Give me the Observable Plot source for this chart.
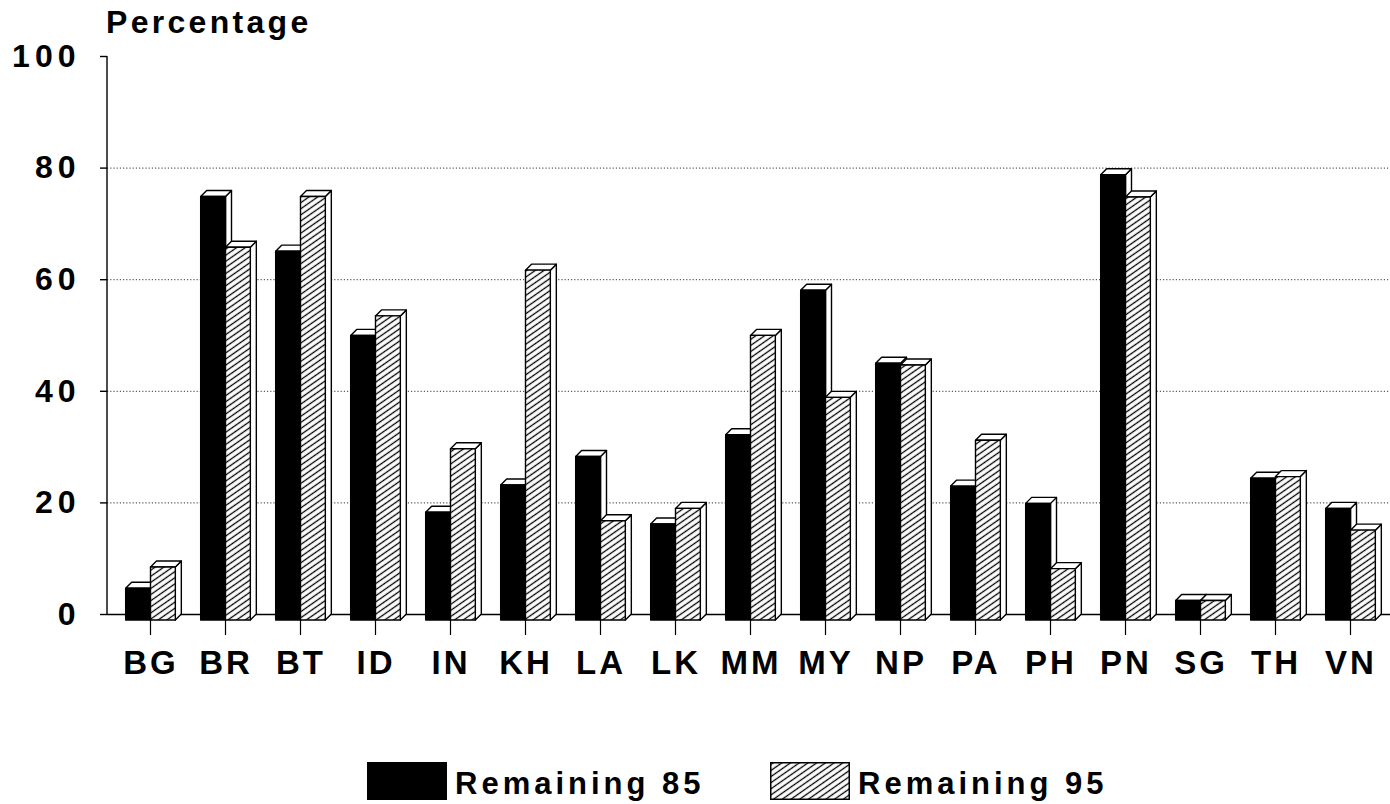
<!DOCTYPE html>
<html>
<head>
<meta charset="utf-8">
<script src="https://cdn.jsdelivr.net/npm/d3@7"></script>
<script src="https://cdn.jsdelivr.net/npm/@observablehq/plot@0.6"></script>
<style>
  body { margin: 0; background: #fff; color: #000; font-family: "Liberation Sans", Arial, sans-serif; font-weight: bold; }
  #title { position: relative; height: 44px; }
  #title span { position: absolute; left: 106px; top: 6px; font-size: 32px; line-height: 1; letter-spacing: 3.3px; }
  #chart svg { display: block; overflow: visible; }
  #chart g[aria-label="y-axis tick label"] text { letter-spacing: 5px; }
  #chart g[aria-label="x-axis tick label"] text { letter-spacing: 3px; }
  #legend { position: relative; height: 60px; }
  #legend svg { position: absolute; top: 18px; }
  #legend span { position: absolute; top: 24px; font-size: 31px; line-height: 1; letter-spacing: 4px; white-space: nowrap; }
</style>
</head>
<body>
<svg width="0" height="0" style="position:absolute">
  <defs>
    <pattern id="hatch" width="10" height="5" patternUnits="userSpaceOnUse" patternTransform="rotate(-35)">
      <rect width="10" height="5" fill="white"></rect>
      <line x1="0" y1="2.5" x2="10" y2="2.5" stroke="black" stroke-width="1.3"></line>
    </pattern>
  </defs>
</svg>
<div id="title"><span>Percentage</span></div>
<div id="chart"></div>
<div id="legend"></div>
<script>
// Country codes along the x axis
const categories = ["BG", "BR", "BT", "ID", "IN", "KH", "LA", "LK", "MM", "MY", "NP", "PA", "PH", "PN", "SG", "TH", "VN"];
// Percentage values for each series
const remaining85 = [5.7, 75.9, 66.1, 51.0, 19.3, 24.2, 29.3, 17.2, 33.2, 59.1, 46.0, 24.0, 20.9, 79.8, 3.5, 25.4, 20.0];
const remaining95 = [9.5, 66.8, 75.9, 54.5, 30.7, 62.7, 17.8, 20.0, 51.0, 39.9, 45.7, 32.2, 9.2, 75.8, 3.5, 25.7, 16.1];
const seriesNames = ["Remaining 85", "Remaining 95"];
const seriesFills = ["black", "url(#hatch)"];
const yTicks = [0, 20, 40, 60, 80, 100];
const gridTicks = [20, 40, 60, 80];

// Draws each pair of bars as shaded 3D boxes, plus the y-axis line and x ticks
function boxes(index, scales, values, dimensions) {
  const x = scales.x, y = scales.y;
  const step = x(categories[1]) - x(categories[0]);
  const half = step * 0.331;
  const depth = 6;
  const y0 = y(0);
  const g = d3.create("svg:g")
    .attr("stroke", "black")
    .attr("stroke-width", 1.4)
    .attr("stroke-linejoin", "round");
  g.append("line")
    .attr("x1", dimensions.marginLeft).attr("x2", dimensions.marginLeft)
    .attr("y1", y0).attr("y2", y(100));
  categories.forEach((c, i) => {
    const cx = x(c) + step / 2;
    const series = [remaining85[i], remaining95[i]];
    series.forEach((v, s) => {
      const x0 = cx - half + s * half;
      const x1 = x0 + half;
      const top = y(v);
      // right side face
      g.append("polygon").attr("fill", "white")
        .attr("points", [[x1, top + depth], [x1 + depth, top], [x1 + depth, y0], [x1, y0 + depth]].join(" "));
      // top face
      g.append("polygon").attr("fill", "white")
        .attr("points", [[x0, top + depth], [x0 + depth, top], [x1 + depth, top], [x1, top + depth]].join(" "));
      // front face
      g.append("rect")
        .attr("x", x0).attr("y", top + depth)
        .attr("width", half).attr("height", y0 - top)
        .attr("fill", seriesFills[s]);
    });
    g.append("line")
      .attr("x1", cx).attr("x2", cx)
      .attr("y1", y0 + depth).attr("y2", y0 + depth + 15)
      .attr("stroke-width", 1.2);
  });
  return g.node();
}

const chart = Plot.plot({
  width: 1390,
  height: 700,
  marginTop: 12,
  marginBottom: 130,
  marginLeft: 107,
  marginRight: 0,
  style: { fontFamily: "'Liberation Sans', Arial, sans-serif", fontWeight: "bold", color: "black", background: "white" },
  x: { type: "band", domain: categories, range: [108, 1393], padding: 0 },
  y: { domain: [0, 100], label: null },
  marks: [
    Plot.ruleY(gridTicks, { stroke: "#333", strokeWidth: 1, strokeDasharray: "1.2,2" }),
    Plot.ruleY([100], { stroke: "black", strokeWidth: 1.5, x1: null }),
    Plot.ruleY([0], { stroke: "black", strokeWidth: 1.5 }),
    Plot.axisY(yTicks, { tickSize: 7, tickPadding: 20, fontSize: 32, label: null, tickFormat: d => d, strokeWidth: 1.4 }),
    Plot.axisX(categories, { tickSize: 0, tickPadding: 36, fontSize: 33, label: null }),
    boxes
  ]
});
document.getElementById("chart").append(chart);

// Legend below the chart
const legend = d3.select("#legend");
const legendSwatchX = [367, 770];
const legendTextX = [455, 858];
seriesNames.forEach((name, s) => {
  const sw = legend.append("svg")
    .attr("width", 80).attr("height", 38)
    .style("left", legendSwatchX[s] + "px");
  sw.append("rect")
    .attr("x", 0.75).attr("y", 0.75).attr("width", 78.5).attr("height", 36.5)
    .attr("fill", seriesFills[s]).attr("stroke", "black").attr("stroke-width", 1.5);
  legend.append("span").style("left", legendTextX[s] + "px").text(name);
});
</script>
</body>
</html>
